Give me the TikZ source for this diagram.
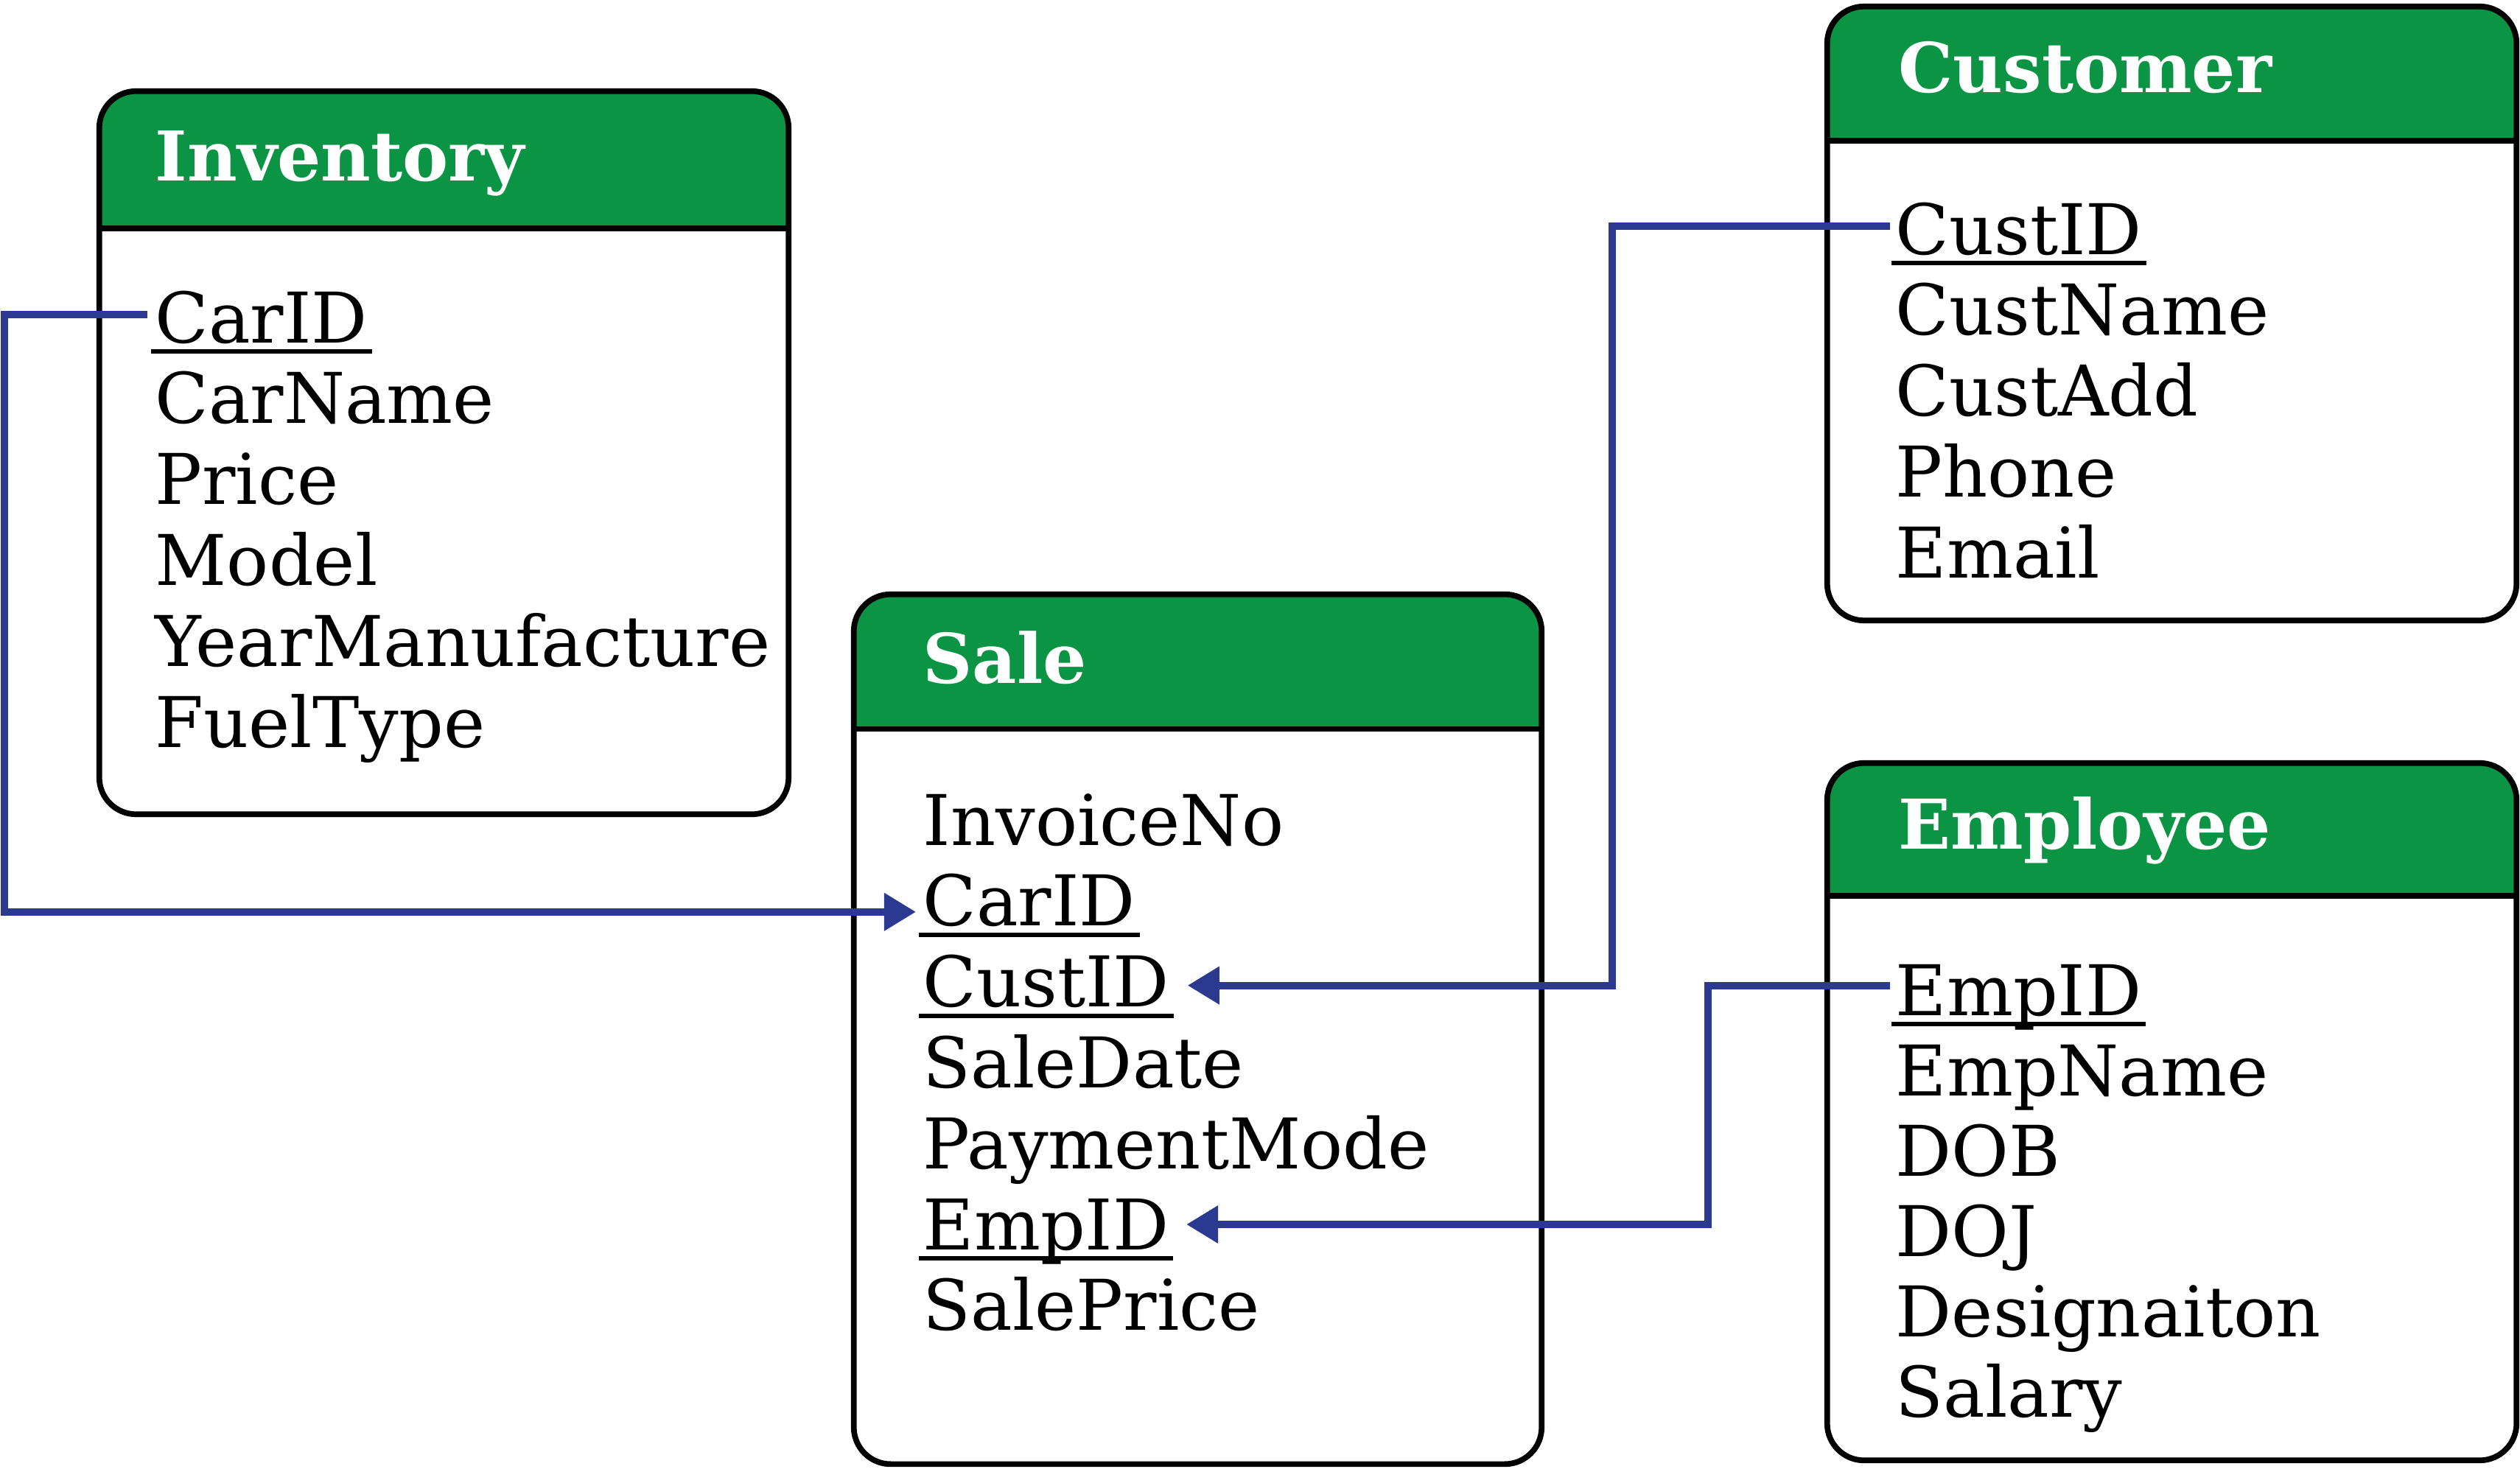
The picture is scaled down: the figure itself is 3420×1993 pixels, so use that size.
\documentclass[tikz,border=0pt]{standalone}
\usepackage{fontspec}
\setmainfont{DejaVu Serif}
\usetikzlibrary{arrows.meta}
\definecolor{hdrgreen}{RGB}{12,148,69}
\definecolor{fkblue}{RGB}{43,57,144}
\begin{document}
\begin{tikzpicture}[x=0.01cm,y=0.01cm,
  tbox/.style={draw=black, line width=2.2pt, rounded corners=0.5cm, inner sep=0pt, outer sep=0pt,
    path picture={
      \fill[hdrgreen, sharp corners] (path picture bounding box.north west) rectangle ([yshift=-#1]path picture bounding box.north east);
      \draw[black, line width=2.1pt, sharp corners] ([yshift=-#1]path picture bounding box.north west) -- ([yshift=-#1]path picture bounding box.north east);}},
  ttl/.style={anchor=base west, inner sep=0pt, text=white, font=\fontsize{26.5}{30}\selectfont\bfseries},
  fld/.style={anchor=base west, inner sep=0pt, font=\fontsize{27}{32}\selectfont},
  uline/.style={draw=black, line width=1.7pt},
  fk/.style={draw=fkblue, line width=2.85pt, -{Triangle[length=0.43cm,width=0.49cm]}}
]
\useasboundingbox (0,0) rectangle (3420,-1993);

% ---- boxes ----
\node[tbox=1.86cm, minimum width=9.35cm, minimum height=9.81cm] (inv) at (602.5,-614.5) {};
\node[tbox=1.83cm, minimum width=9.33cm, minimum height=11.80cm] (sale) at (1625.5,-1397) {};
\node[tbox=1.82cm, minimum width=9.35cm, minimum height=8.33cm] (cust) at (2947.5,-425.5) {};
\node[tbox=1.80cm, minimum width=9.35cm, minimum height=9.46cm] (emp) at (2947.5,-1509) {};

% ---- titles ----
\node[ttl] (invT) at (210,-245) {Inventory};
\node[ttl] (saleT) at (1252,-927) {Sale};
\node[ttl] (custT) at (2576,-125) {Customer};
\node[ttl] (empT) at (2576,-1152) {Employee};

% ---- fields ----
\foreach \t [count=\i from 0] in {CarID,CarName,Price,Model,YearManufacture,FuelType}
  \node[fld] (inv\i) at (210,-465-109.8*\i) {\t};
\foreach \t [count=\i from 0] in {InvoiceNo,CarID,CustID,SaleDate,PaymentMode,EmpID,SalePrice}
  \node[fld] (sale\i) at (1252,-1147-109.8*\i) {\t};
\foreach \t [count=\i from 0] in {CustID,CustName,CustAdd,Phone,Email}
  \node[fld] (cust\i) at (2572,-345-109.75*\i) {\t};
\foreach \t [count=\i from 0] in {EmpID,EmpName,DOB,DOJ,Designaiton,Salary}
  \node[fld] (emp\i) at (2572,-1378-109*\i) {\t};

% ---- key underlines ----
\foreach \n in {inv0,sale1,sale2,sale5,cust0,emp0}
  \draw[uline] ([shift={(-5,-12)}]\n.base west) -- ([shift={(5,-12)}]\n.base east);

% ---- connectors ----
\coordinate (v1) at (6,0);
\coordinate (v2) at (2188,0);
\coordinate (v3) at (2318,0);
\coordinate (c1s) at ([shift={(-10,38)}]inv0.base west);
\coordinate (c1t) at ([shift={(-9,19)}]sale1.base west);
\coordinate (c2s) at ([shift={(-7,38)}]cust0.base west);
\coordinate (c2t) at ([shift={(24,29)}]sale2.base east);
\coordinate (c3s) at ([shift={(-7,40)}]emp0.base west);
\coordinate (c3t) at ([shift={(23,34)}]sale5.base east);

\draw[fk] (c1s) -- (c1s -| v1) |- (c1t);
\draw[fk] (c2s) -- (c2s -| v2) |- (c2t);
\draw[fk] (c3s) -- (c3s -| v3) |- (c3t);
\end{tikzpicture}
\end{document}
